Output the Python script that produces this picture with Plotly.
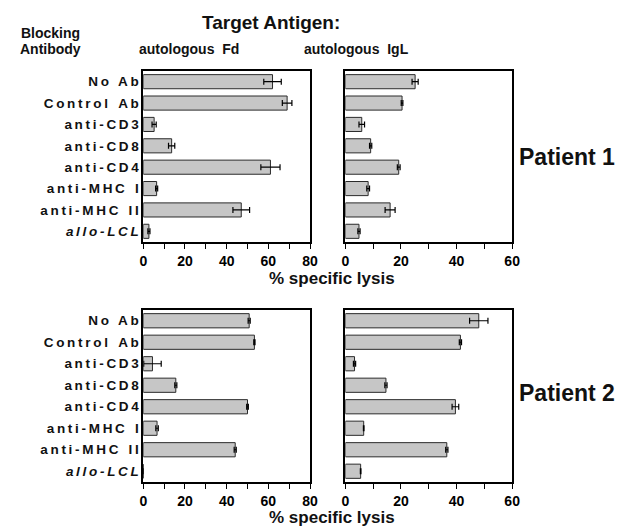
import plotly.graph_objects as go

categories = ["No Ab", "Control  Ab", "anti-CD3", "anti-CD8", "anti-CD4",
              "anti-MHC  I", "anti-MHC  II", "allo-LCL"]

p1_fd = [62, 69, 5.2, 13.6, 61, 6.4, 47, 2.7]
p1_fd_err = [4.2, 2.3, 1.0, 1.5, 4.6, 0.5, 4.0, 0.5]
p1_igl = [25.1, 20.4, 5.9, 9.1, 19.2, 8.2, 16.1, 4.9]
p1_igl_err = [1.1, 0.3, 1.0, 0.4, 0.5, 0.5, 1.8, 0.4]
p2_fd = [50.8, 53.3, 4.4, 15.6, 50.0, 6.6, 44.1, 0]
p2_fd_err = [0.5, 0.3, 4.2, 0.5, 0.4, 0.6, 0.5, 0]
p2_igl = [48, 41.4, 3.3, 14.6, 39.6, 6.6, 36.5, 5.5]
p2_igl_err = [3.3, 0.4, 0.4, 0.4, 1.2, 0.1, 0.4, 0.1]

fd_ticks = [0, 20, 40, 60, 80]
igl_ticks = [0, 20, 40, 60]

FONT = "Liberation Sans, Arial, sans-serif"
W, H = 629, 527


def spaced(s):
    words = [w for w in s.replace("  ", " \x00").split(" ")]
    out = []
    for w in words:
        if w.startswith("\x00"):
            out.append("\u00a0\u00a0" + "\u2009".join(list(w[1:])))
        else:
            out.append("\u2009".join(list(w)))
    res = out[0]
    for w in out[1:]:
        if w.startswith("\u00a0\u00a0"):
            res += "\u2009" + w
        else:
            res += "\u2009\u00a0\u2009" + w
    return res


ticktext = [spaced(c) for c in categories[:-1]] + ["<i>" + spaced(categories[-1]) + "</i>"]

# domains in pixels
colx = [(142, 312), (348, 518)]
rowy = [(71, 242), (310, 482)]


def xdom(c):
    return [colx[c][0] / W, colx[c][1] / W]


def ydom(r):
    return [1 - rowy[r][1] / H, 1 - rowy[r][0] / H]


fig = go.Figure()
panels = [
    (p1_fd, p1_fd_err, 0, 0, 1),
    (p1_igl, p1_igl_err, 0, 1, 2),
    (p2_fd, p2_fd_err, 1, 0, 3),
    (p2_igl, p2_igl_err, 1, 1, 4),
]

for vals, errs, r, c, idx in panels:
    sfx = "" if idx == 1 else str(idx)
    fig.add_trace(go.Bar(
        x=vals, y=categories, orientation="h",
        xaxis="x" + sfx, yaxis="y" + sfx,
        marker=dict(color="#c6c6c6", line=dict(color="#2a2a2a", width=1)),
        width=0.66,
        error_x=dict(type="data", array=errs, color="black", thickness=1.2, width=3),
        showlegend=False, hoverinfo="x+y",
    ))
    ticks = fd_ticks if c == 0 else igl_ticks
    fig.layout["xaxis" + sfx] = dict(
        domain=xdom(c), anchor="y" + sfx, range=[0, ticks[-1]],
        tickvals=ticks, ticks="outside", ticklen=5, tickwidth=1.2, tickcolor="black",
        minor=dict(dtick=10, tick0=0, ticks="outside", ticklen=5, tickwidth=1.2, tickcolor="black"),
        showline=True, linecolor="black", linewidth=1.5, mirror=True,
        showgrid=False, zeroline=False, fixedrange=True,
        tickfont=dict(family=FONT, size=14, color="black", weight="bold"),
    )
    fig.layout["yaxis" + sfx] = dict(
        domain=ydom(r), anchor="x" + sfx, type="category",
        categoryorder="array", categoryarray=categories,
        range=[7.5, -0.5],
        tickvals=categories, ticktext=ticktext, showticklabels=(c == 0),
        ticks="", showline=True, linecolor="black", linewidth=1.5, mirror=True,
        showgrid=False, zeroline=False, fixedrange=True,
        tickfont=dict(family=FONT, size=13.5, color="#111", weight="bold"),
    )


def ann(text, x, y, size, anchor="center"):
    fig.add_annotation(text=text, x=x / W, y=1 - y / H, xref="paper", yref="paper",
                       showarrow=False, xanchor=anchor, yanchor="middle",
                       font=dict(family=FONT, size=size, color="#111", weight="bold"))


ann("Target Antigen:", 272, 22, 19)
ann("Blocking", 47, 33, 14)
ann("Antibody", 47, 49, 14)
ann("autologous\u00a0\u00a0Fd", 189, 49, 14)
ann("autologous\u00a0\u00a0IgL", 359, 49, 14)
ann("Patient 1", 625, 157, 23, "right")
ann("Patient 2", 625, 393, 23, "right")
ann("% specific lysis", 334, 278, 17)
ann("% specific lysis", 334, 517, 17)

fig.update_layout(width=W, height=H, margin=dict(l=0, r=0, t=0, b=0),
                  paper_bgcolor="white", plot_bgcolor="white", bargap=0.3)

fig.write_html(
    "out.html", config={"displayModeBar": False, "responsive": False},
    post_script=("document.documentElement.style.overflow='hidden';"
                 "document.body.style.overflow='hidden';"
                 "document.body.style.margin='0';document.body.style.padding='0';"))
